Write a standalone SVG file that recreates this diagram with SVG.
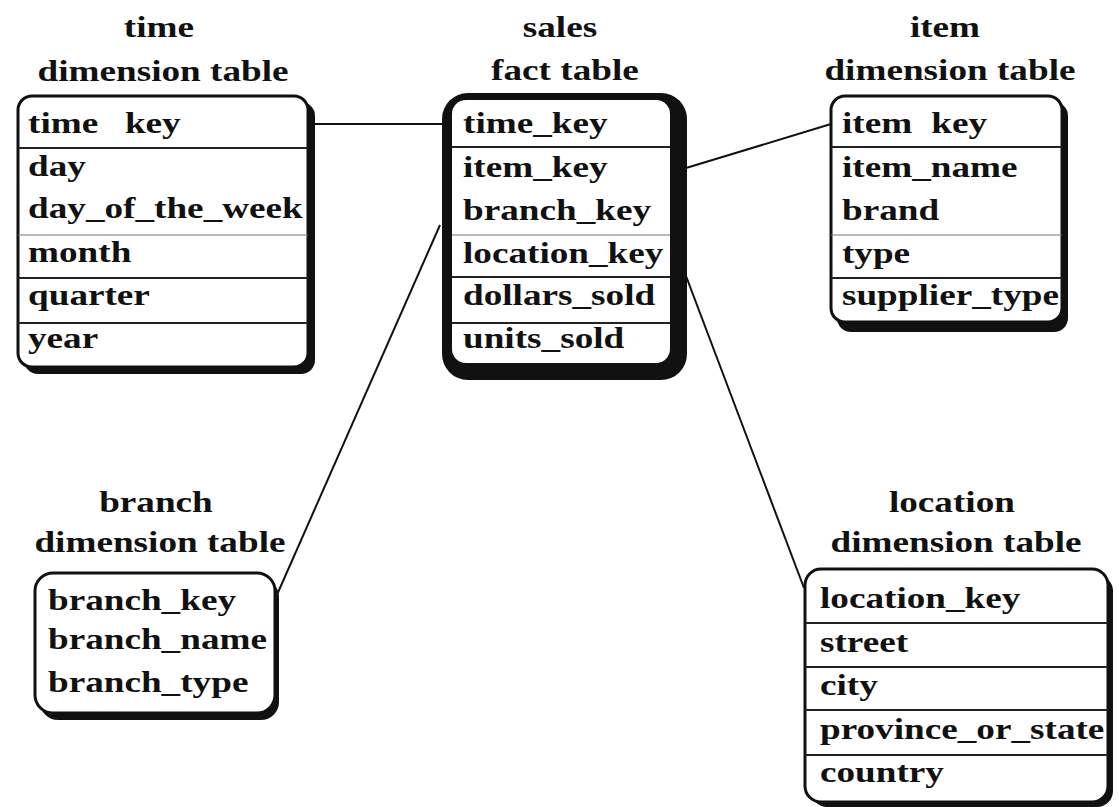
<svg xmlns="http://www.w3.org/2000/svg" width="1119" height="807" viewBox="0 0 1119 807">
<style>
  text { font-family: "Liberation Serif", "Times New Roman", serif; font-weight: bold; font-size: 30px; fill: #111; }
  .title { text-anchor: middle; }
  .box { fill: #fff; stroke: #111; stroke-width: 3; }
  .shadow { fill: #111; stroke: none; }
  .inner { fill: #fff; stroke: none; }
  .sep { stroke: #222; stroke-width: 2; }
  .sep-light { stroke: #777; stroke-width: 1.2; }
  .conn { stroke: #111; stroke-width: 2; fill: none; }
</style>
<defs>
  <clipPath id="clipTime"><rect x="19" y="97" width="288" height="269"/></clipPath>
  <clipPath id="clipSales"><rect x="452" y="100" width="218" height="263"/></clipPath>
  <clipPath id="clipItem"><rect x="832" y="97" width="229" height="224"/></clipPath>
  <clipPath id="clipBranch"><rect x="36" y="574" width="238" height="138"/></clipPath>
  <clipPath id="clipLocation"><rect x="806" y="570" width="301" height="231"/></clipPath>
</defs>
<rect width="1119" height="807" fill="#fff"/>

<g id="connectors">
  <line class="conn" x1="315" y1="124" x2="442" y2="124" stroke-width="1.5"/>
  <line class="conn" x1="686" y1="168" x2="831" y2="124" stroke-width="2.5"/>
  <line class="conn" x1="440" y1="225" x2="276" y2="597"/>
  <line class="conn" x1="686" y1="276" x2="804" y2="588"/>
</g>

<g id="time">
  <g transform="scale(1.24,1)">
    <text class="title" x="128.2" y="37">time</text>
    <text class="title" x="131.5" y="81">dimension table</text>
  </g>
  <rect class="shadow" x="24" y="102" width="291" height="272" rx="14"/>
  <rect class="box" x="18" y="96" width="290" height="271" rx="14"/>
  <line class="sep" x1="18" y1="148" x2="308" y2="148"/>
  <line class="sep-light" x1="18" y1="235" x2="308" y2="235"/>
  <line class="sep" x1="18" y1="278" x2="308" y2="278"/>
  <line class="sep" x1="18" y1="323" x2="308" y2="323"/>
  <g clip-path="url(#clipTime)">
    <g transform="scale(1.24,1)">
      <text x="22.6" y="133" word-spacing="14">time key</text>
      <text x="22.6" y="176">day</text>
      <text x="22.6" y="218">day_of_the_week</text>
      <text x="22.6" y="262">month</text>
      <text x="22.6" y="305">quarter</text>
      <text x="22.6" y="348">year</text>
    </g>
  </g>
</g>

<g id="sales">
  <g transform="scale(1.24,1)">
    <text class="title" x="451.6" y="37">sales</text>
    <text class="title" x="455.6" y="80">fact table</text>
  </g>
  <rect class="shadow" x="442" y="93" width="245" height="287" rx="26"/>
  <rect class="inner" x="452" y="100" width="218" height="263" rx="14"/>
  <line class="sep" x1="452" y1="147" x2="670" y2="147"/>
  <line class="sep-light" x1="452" y1="235" x2="670" y2="235"/>
  <line class="sep" x1="452" y1="277" x2="670" y2="277"/>
  <line class="sep" x1="452" y1="323" x2="670" y2="323"/>
  <g clip-path="url(#clipSales)">
    <g transform="scale(1.24,1)">
      <text x="373.4" y="133">time_key</text>
      <text x="373.4" y="177">item_key</text>
      <text x="373.4" y="220">branch_key</text>
      <text x="373.4" y="263">location_key</text>
      <text x="373.4" y="305">dollars_sold</text>
      <text x="373.4" y="348">units_sold</text>
    </g>
  </g>
</g>

<g id="item">
  <g transform="scale(1.24,1)">
    <text class="title" x="762.1" y="37">item</text>
    <text class="title" x="766.1" y="80">dimension table</text>
  </g>
  <rect class="shadow" x="837" y="102" width="231" height="230" rx="14"/>
  <rect class="box" x="831" y="96" width="231" height="226" rx="14"/>
  <line class="sep" x1="831" y1="147" x2="1062" y2="147"/>
  <line class="sep-light" x1="831" y1="235" x2="1062" y2="235"/>
  <line class="sep" x1="831" y1="278" x2="1062" y2="278"/>
  <g clip-path="url(#clipItem)">
    <g transform="scale(1.24,1)">
      <text x="679" y="133" word-spacing="8">item key</text>
      <text x="679" y="177">item_name</text>
      <text x="679" y="220">brand</text>
      <text x="679" y="263">type</text>
      <text x="679" y="305">supplier_type</text>
    </g>
  </g>
</g>

<g id="branch">
  <g transform="scale(1.24,1)">
    <text class="title" x="125.8" y="512">branch</text>
    <text class="title" x="129" y="552">dimension table</text>
  </g>
  <rect class="shadow" x="40" y="579" width="239" height="141" rx="18"/>
  <rect class="box" x="35" y="573" width="240" height="140" rx="18"/>
  <g clip-path="url(#clipBranch)">
    <g transform="scale(1.24,1)">
      <text x="38.7" y="610">branch_key</text>
      <text x="38.7" y="649">branch_name</text>
      <text x="38.7" y="692">branch_type</text>
    </g>
  </g>
</g>

<g id="location">
  <g transform="scale(1.24,1)">
    <text class="title" x="767.7" y="512">location</text>
    <text class="title" x="771" y="552">dimension table</text>
  </g>
  <rect class="shadow" x="811" y="575" width="302" height="232" rx="16"/>
  <rect class="box" x="805" y="569" width="303" height="233" rx="16"/>
  <line class="sep" x1="805" y1="623" x2="1108" y2="623"/>
  <line class="sep" x1="805" y1="667" x2="1108" y2="667"/>
  <line class="sep" x1="805" y1="710" x2="1108" y2="710"/>
  <line class="sep" x1="805" y1="755" x2="1108" y2="755"/>
  <g clip-path="url(#clipLocation)">
    <g transform="scale(1.24,1)">
      <text x="661.3" y="608">location_key</text>
      <text x="661.3" y="652">street</text>
      <text x="661.3" y="695">city</text>
      <text x="661.3" y="739">province_or_state</text>
      <text x="661.3" y="782">country</text>
    </g>
  </g>
</g>
</svg>
